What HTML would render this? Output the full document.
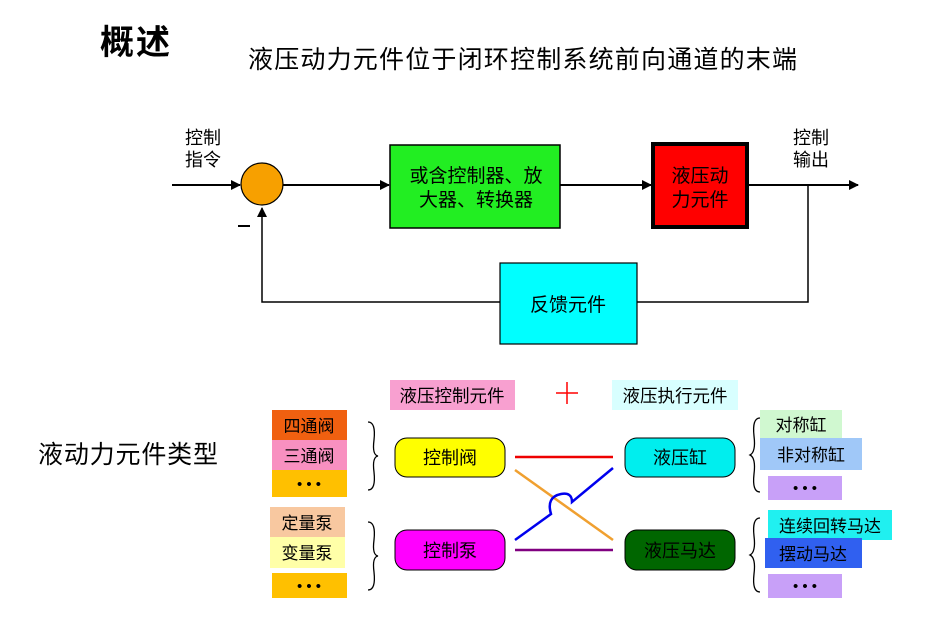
<!DOCTYPE html>
<html><head><meta charset="utf-8"><style>
body{margin:0;background:#fff;}
svg text{font-family:"Liberation Sans","Noto Sans CJK SC",sans-serif;}
</style></head><body>
<svg width="934" height="629" viewBox="0 0 934 629" xmlns="http://www.w3.org/2000/svg">
<defs><marker id="ar" markerWidth="10" markerHeight="10" refX="9" refY="5" orient="auto" markerUnits="userSpaceOnUse"><path d="M0,0 L10,5 L0,10 z" fill="#000"/></marker></defs>
<text x="100" y="54" font-size="34" font-weight="bold" textLength="70">概述</text>
<text x="248" y="68" font-size="25" textLength="549">液压动力元件位于闭环控制系统前向通道的末端</text>
<!-- top diagram -->
<text x="185" y="144" font-size="18">控制</text>
<text x="185" y="166" font-size="18">指令</text>
<text x="793" y="144" font-size="18">控制</text>
<text x="793" y="166" font-size="18">输出</text>
<line x1="172" y1="185" x2="240" y2="185" stroke="#000" stroke-width="2" marker-end="url(#ar)"/>
<ellipse cx="262" cy="184" rx="21" ry="21" fill="#f7a000" stroke="#000" stroke-width="1.2"/>
<line x1="283" y1="185" x2="389" y2="185" stroke="#000" stroke-width="2" marker-end="url(#ar)"/>
<rect x="390" y="145" width="170" height="83" fill="#22ee22" stroke="#000" stroke-width="1.5"/>
<text x="476" y="182" font-size="19" text-anchor="middle">或含控制器、放</text>
<text x="476" y="206" font-size="19" text-anchor="middle">大器、转换器</text>
<line x1="560" y1="185" x2="651" y2="185" stroke="#000" stroke-width="2" marker-end="url(#ar)"/>
<rect x="653" y="144" width="94" height="83" fill="#ff0000" stroke="#000" stroke-width="4"/>
<text x="700" y="182" font-size="19" text-anchor="middle">液压动</text>
<text x="700" y="206" font-size="19" text-anchor="middle">力元件</text>
<line x1="749" y1="185" x2="858" y2="185" stroke="#000" stroke-width="2" marker-end="url(#ar)"/>
<polyline points="808,185 808,302 637,302" fill="none" stroke="#000" stroke-width="1.5"/>
<rect x="500" y="263" width="137" height="81" fill="#00ffff" stroke="#000" stroke-width="1.2"/>
<text x="568" y="311" font-size="19" text-anchor="middle">反馈元件</text>
<polyline points="500,302 262,302 262,208" fill="none" stroke="#000" stroke-width="1.5" marker-end="url(#ar)"/>
<line x1="238" y1="226" x2="250" y2="226" stroke="#000" stroke-width="2"/>
<!-- bottom -->
<rect x="390" y="380" width="125" height="30" fill="#f8a0d0"/>
<text x="452" y="402" font-size="17.5" text-anchor="middle">液压控制元件</text>
<line x1="556" y1="393" x2="578" y2="393" stroke="#f00" stroke-width="1.5"/>
<line x1="567" y1="382" x2="567" y2="404" stroke="#f00" stroke-width="1.5"/>
<rect x="612" y="380" width="126" height="30" fill="#d8ffff"/>
<text x="675" y="402" font-size="17.5" text-anchor="middle">液压执行元件</text>
<text x="38" y="463" font-size="25" textLength="180">液动力元件类型</text>
<rect x="272" y="410" width="75" height="30" fill="#f06010"/>
<text x="309" y="432" font-size="17" text-anchor="middle">四通阀</text>
<rect x="272" y="440" width="75" height="30" fill="#f890c0"/>
<text x="309" y="462" font-size="17" text-anchor="middle">三通阀</text>
<rect x="272" y="470" width="75" height="27" fill="#ffc000"/>
<text x="309" y="489" font-size="15" text-anchor="middle">•  •  •</text>
<rect x="270" y="507" width="75" height="30" fill="#f8c8a0"/>
<text x="307" y="529" font-size="17" text-anchor="middle">定量泵</text>
<rect x="270" y="537" width="75" height="31" fill="#ffffa8"/>
<text x="307" y="559" font-size="17" text-anchor="middle">变量泵</text>
<rect x="272" y="573" width="75" height="25" fill="#ffc000"/>
<text x="309" y="591" font-size="15" text-anchor="middle">•  •  •</text>
<path d="M368,422 Q376,422 374,440 Q372,455 378,456 Q372,457 374,472 Q376,490 368,490" fill="none" stroke="#000" stroke-width="1.3"/>
<path d="M368,522 Q376,522 374,540 Q372,555 378,556 Q372,557 374,572 Q376,590 368,590" fill="none" stroke="#000" stroke-width="1.3"/>
<rect x="395" y="438" width="110" height="39" rx="12" fill="#ffff00" stroke="#000" stroke-width="1"/>
<text x="450" y="464" font-size="18" text-anchor="middle">控制阀</text>
<rect x="395" y="530" width="110" height="40" rx="12" fill="#ff00ff" stroke="#000" stroke-width="1"/>
<text x="450" y="557" font-size="18" text-anchor="middle">控制泵</text>
<rect x="625" y="438" width="110" height="39" rx="12" fill="#00eeee" stroke="#000" stroke-width="1"/>
<text x="680" y="464" font-size="18" text-anchor="middle">液压缸</text>
<rect x="625" y="530" width="110" height="40" rx="12" fill="#006600" stroke="#000" stroke-width="1"/>
<text x="680" y="557" font-size="18" text-anchor="middle">液压马达</text>
<line x1="515" y1="457" x2="613" y2="457" stroke="#e00" stroke-width="2.5"/>
<line x1="515" y1="550" x2="613" y2="550" stroke="#800080" stroke-width="2.5"/>
<line x1="515" y1="470" x2="613" y2="540" stroke="#f0a030" stroke-width="2.5"/>
<path d="M515,540 L551,514 Q546,497 561,494 Q572,492 572,502 L613,468" fill="none" stroke="#0000ee" stroke-width="2.5"/>
<path d="M760,418 Q752,418 754,436 Q756,452 750,455 Q756,458 754,474 Q752,492 760,492" fill="none" stroke="#000" stroke-width="1.3"/>
<path d="M760,518 Q752,518 754,536 Q756,552 750,555 Q756,558 754,574 Q752,592 760,592" fill="none" stroke="#000" stroke-width="1.3"/>
<rect x="760" y="410" width="82" height="28" fill="#d0f8d0"/>
<text x="801" y="431" font-size="17" text-anchor="middle">对称缸</text>
<rect x="760" y="438" width="102" height="32" fill="#a0c8f8"/>
<text x="811" y="461" font-size="17" text-anchor="middle">非对称缸</text>
<rect x="768" y="476" width="74" height="24" fill="#c8a0f8"/>
<text x="805" y="493" font-size="15" text-anchor="middle">•  •  •</text>
<rect x="768" y="510" width="124" height="30" fill="#20f0f0"/>
<text x="830" y="532" font-size="17" text-anchor="middle">连续回转马达</text>
<rect x="765" y="538" width="97" height="30" fill="#3060f0"/>
<text x="813" y="560" font-size="17" text-anchor="middle">摆动马达</text>
<rect x="768" y="574" width="74" height="24" fill="#c8a0f8"/>
<text x="805" y="591" font-size="15" text-anchor="middle">•  •  •</text>
</svg>
</body></html>
